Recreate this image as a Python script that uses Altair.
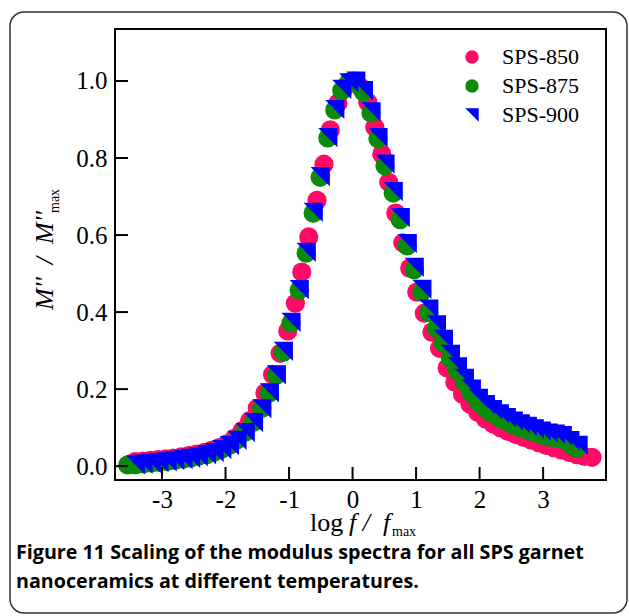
import altair as alt
import pandas as pd

# ---------------- data ----------------
series_names = ["SPS-850", "SPS-875", "SPS-900"]
series_colors = ["#FF0A64", "#0A8C0A", "#0000FF"]

pink_x = [-3.42, -3.30, -3.18, -3.06, -2.94, -2.82, -2.70, -2.58, -2.46, -2.34,
          -2.22, -2.10, -1.98, -1.86, -1.74, -1.62, -1.50, -1.38, -1.26, -1.14,
          -1.02, -0.90, -0.80, -0.69, -0.56, -0.45, -0.35, -0.23, -0.12, 0.00,
          0.12, 0.24, 0.35, 0.46, 0.57, 0.68, 0.79, 0.90, 1.01, 1.13,
          1.25, 1.37, 1.49, 1.61, 1.73, 1.85, 1.97, 2.09, 2.21, 2.33,
          2.45, 2.57, 2.69, 2.81, 2.93, 3.05, 3.17, 3.29, 3.41, 3.53,
          3.65, 3.77]
pink_y = [0.012, 0.013, 0.015, 0.017, 0.019, 0.021, 0.024, 0.027, 0.031, 0.035,
          0.041, 0.048, 0.058, 0.072, 0.092, 0.118, 0.150, 0.190, 0.238, 0.293,
          0.351, 0.423, 0.504, 0.595, 0.690, 0.784, 0.873, 0.943, 0.985, 1.000,
          0.985, 0.945, 0.880, 0.810, 0.737, 0.657, 0.580, 0.514, 0.452, 0.397,
          0.348, 0.306, 0.255, 0.218, 0.187, 0.161, 0.140, 0.123, 0.110, 0.099,
          0.090, 0.082, 0.075, 0.068, 0.061, 0.054, 0.048, 0.042, 0.036, 0.030,
          0.025, 0.023]

green_x = [-3.54, -3.42, -3.30, -3.17, -3.05, -2.92, -2.80, -2.67, -2.55, -2.43,
           -2.30, -2.18, -2.06, -1.94, -1.82, -1.69, -1.56, -1.43, -1.31, -1.20,
           -1.09, -0.97, -0.84, -0.73, -0.62, -0.51, -0.39, -0.28, -0.17, -0.06,
           0.05, 0.17, 0.29, 0.40, 0.51, 0.64, 0.75, 0.86, 0.97, 1.09,
           1.20, 1.32, 1.43, 1.54, 1.65, 1.76, 1.87, 1.98, 2.09, 2.20,
           2.31, 2.42, 2.53, 2.64, 2.75, 2.86, 2.97, 3.08, 3.19, 3.30,
           3.42, 3.53]
green_y = [0.003, 0.004, 0.006, 0.008, 0.010, 0.012, 0.015, 0.018, 0.021, 0.025,
           0.030, 0.036, 0.044, 0.054, 0.068, 0.088, 0.114, 0.150, 0.190, 0.236,
           0.296, 0.371, 0.457, 0.553, 0.657, 0.750, 0.852, 0.925, 0.975, 0.997,
           1.000, 0.972, 0.917, 0.850, 0.780, 0.709, 0.640, 0.572, 0.510, 0.452,
           0.400, 0.358, 0.320, 0.280, 0.248, 0.218, 0.190, 0.166, 0.150, 0.137,
           0.126, 0.116, 0.107, 0.100, 0.093, 0.087, 0.081, 0.076, 0.073, 0.070,
           0.058, 0.046]

blue_x = [-3.42, -3.30, -3.17, -3.05, -2.92, -2.80, -2.67, -2.55, -2.43,
          -2.30, -2.18, -2.06, -1.94, -1.82, -1.69, -1.56, -1.43, -1.31, -1.20,
          -1.09, -0.97, -0.84, -0.73, -0.62, -0.51, -0.39, -0.28, -0.17, -0.06,
          0.05, 0.17, 0.29, 0.40, 0.51, 0.64, 0.75, 0.86, 0.97, 1.09,
          1.20, 1.32, 1.43, 1.54, 1.65, 1.76, 1.87, 1.98, 2.09, 2.20,
          2.31, 2.42, 2.53, 2.64, 2.75, 2.86, 2.97, 3.08, 3.19, 3.30,
          3.42, 3.55]
blue_y = [0.003, 0.005, 0.007, 0.009, 0.011, 0.014, 0.017, 0.020, 0.024,
          0.029, 0.035, 0.043, 0.053, 0.067, 0.087, 0.113, 0.149, 0.190, 0.237,
          0.298, 0.373, 0.458, 0.555, 0.659, 0.752, 0.853, 0.926, 0.978, 0.995,
          1.000, 0.975, 0.920, 0.853, 0.784, 0.713, 0.645, 0.578, 0.516, 0.459,
          0.408, 0.367, 0.329, 0.290, 0.258, 0.228, 0.200, 0.176, 0.160, 0.147,
          0.136, 0.126, 0.117, 0.110, 0.103, 0.097, 0.091, 0.086, 0.083, 0.079,
          0.066, 0.054]

x_ticks = [-3, -2, -1, 0, 1, 2, 3]
y_ticks = [0.0, 0.2, 0.4, 0.6, 0.8, 1.0]

caption_lines = ["Figure 11 Scaling of the modulus spectra for all SPS garnet",
                 "nanoceramics at different temperatures."]

# ---------------- build table ----------------
rows = []
for name, xs, ys in zip(series_names, [pink_x, green_x, blue_x], [pink_y, green_y, blue_y]):
    for a, b in zip(xs, ys):
        rows.append({"series": name, "x": a, "y": b})
df = pd.DataFrame(rows)

W, H = 491, 451
SERIF = "Liberation Serif"
xscale = alt.Scale(domain=[-3.74, 3.99], nice=False, zero=False)
yscale = alt.Scale(domain=[-0.036, 1.135], nice=False, zero=False)
tri = "M-1,-1L1,-1L1,1Z"

xaxis = alt.Axis(values=x_ticks, title=None, domain=False, ticks=False, grid=False,
                 labelExpr="datum.value + ''", labelFont=SERIF, labelFontSize=25,
                 labelColor="black", labelPadding=7)
yaxis = alt.Axis(values=y_ticks, title=None, domain=False, ticks=False, grid=False,
                 format=".1f", labelFont=SERIF, labelFontSize=25,
                 labelColor="black", labelPadding=8)

points = alt.Chart(df).mark_point(filled=True, size=370, opacity=1, strokeWidth=0).encode(
    x=alt.X("x:Q", scale=xscale, axis=xaxis),
    y=alt.Y("y:Q", scale=yscale, axis=yaxis),
    color=alt.Color("series:N", scale=alt.Scale(domain=series_names, range=series_colors),
                    title=None),
    shape=alt.Shape("series:N", scale=alt.Scale(domain=series_names, range=["circle", "circle", tri]),
                    title=None),
)

yt = alt.Chart(pd.DataFrame({"y": y_ticks})).mark_rule(color="black", strokeWidth=2).encode(
    y=alt.Y("y:Q", scale=yscale, axis=yaxis), x=alt.value(0), x2=alt.value(13))
xt = alt.Chart(pd.DataFrame({"x": x_ticks})).mark_rule(color="black", strokeWidth=2).encode(
    x=alt.X("x:Q", scale=xscale, axis=xaxis), y=alt.value(H), y2=alt.value(H - 13))

one = pd.DataFrame({"t": [""]})

def label(text, x, y, size, style="normal", angle=0, font=SERIF, weight="normal", baseline="alphabetic"):
    return alt.Chart(pd.DataFrame({"t": [text]})).mark_text(
        align="left", baseline=baseline, font=font, fontSize=size, fontStyle=style,
        fontWeight=weight, angle=angle, color="black").encode(
        text="t:N", x=alt.value(x), y=alt.value(y))

NB = "\u00a0"
ytitle_main = label("M'' " + NB + "/" + NB + " M''", -62, 281, 26, style="italic", angle=270)
ytitle_sub = label("max", -56, 184, 14, angle=270)
xtitle_log = label("log", 195, 502, 26)
xtitle_f = label("f / " + NB + "f", 234, 502, 26, style="italic")
xtitle_sub = label("max", 277, 507, 14)

cap1 = label(caption_lines[0], -99, 524, 19.7, font="Open Sans", weight="bold", baseline="middle")
cap2 = label(caption_lines[1], -99, 553, 19.7, font="Open Sans", weight="bold", baseline="middle")

box = alt.Chart(one).mark_rect(fillOpacity=0, stroke="#333333", strokeWidth=1.5, cornerRadius=14).encode(
    x=alt.value(-105), x2=alt.value(512), y=alt.value(-17), y2=alt.value(584))

chart = alt.layer(
    points, yt, xt, box, ytitle_main, ytitle_sub, xtitle_log, xtitle_f, xtitle_sub, cap1, cap2
).properties(
    width=W, height=H,
    autosize=alt.AutoSizeParams(type="none"),
    padding={"left": 115, "top": 29, "right": 23, "bottom": 136},
    background="white",
).configure_view(
    stroke="black", strokeWidth=2
).configure_legend(
    orient="none", legendX=346, legendY=17, labelFont=SERIF, labelFontSize=22,
    labelColor="black", symbolSize=180, symbolStrokeWidth=0, rowPadding=7,
    labelOffset=19, padding=0, symbolOpacity=1
)

chart.save("out.html", embed_options={"renderer": "svg", "actions": False})
